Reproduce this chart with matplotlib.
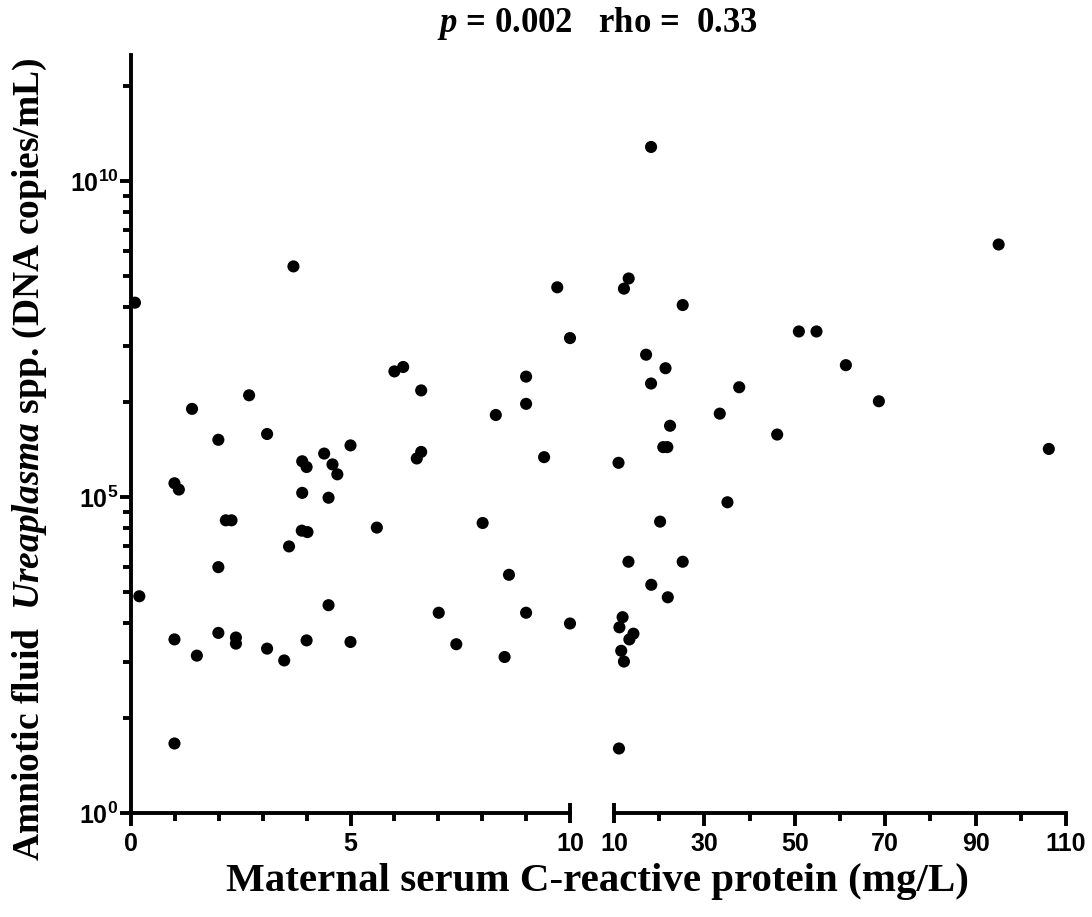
import matplotlib

matplotlib.use("Agg")
import matplotlib.pyplot as plt
from matplotlib.ticker import FixedLocator, NullFormatter

plt.rcParams["mathtext.fontset"] = "custom"
plt.rcParams["mathtext.rm"] = "Liberation Serif:bold"
plt.rcParams["mathtext.it"] = "Liberation Serif:italic:bold"
plt.rcParams["mathtext.bf"] = "Liberation Serif:bold"
plt.rcParams["mathtext.sf"] = "Liberation Sans:bold"

# CRP 0-10 mg/L segment
crp_low = [3.70, 0.09, 9.71, 10.0, 6.00, 6.20, 6.61, 9.00, 9.00, 8.31,
           2.69, 1.39, 1.99, 3.10, 5.00, 4.40, 3.90, 4.00, 4.59, 4.70,
           6.51, 6.61, 9.41, 0.99, 1.09, 3.90, 4.50, 2.16, 2.29, 3.89,
           4.02, 5.60, 8.01, 3.60, 1.99, 0.19, 8.61, 4.50, 7.01, 9.00,
           10.0, 0.99, 1.99, 2.39, 2.39, 1.50, 3.10, 3.49, 4.00, 5.00,
           7.41, 8.51, 0.99]
load_low = [4.5e8, 1.2e8, 2.1e8, 3.3e7, 9.8e6, 1.15e7, 4.9e6, 8.1e6, 3.0e6, 2.0e6,
            4.1e6, 2.5e6, 8.1e5, 1.0e6, 6.6e5, 4.9e5, 3.7e5, 3.0e5, 3.3e5, 2.3e5,
            4.1e5, 5.2e5, 4.3e5, 1.66e5, 1.32e5, 1.17e5, 9.8e4, 4.3e4, 4.3e4, 2.95e4,
            2.8e4, 3.3e4, 3.9e4, 1.66e4, 7.8e3, 2.7e3, 5.9e3, 1.95e3, 1.48e3, 1.48e3,
            1.0e3, 560, 710, 600, 480, 310, 400, 260, 540, 510,
            470, 295, 12.6]

# CRP 10-110 mg/L segment
crp_high = [18.2, 13.25, 12.2, 25.2, 50.9, 54.8, 17.1, 21.4, 18.2, 37.7,
            33.4, 46.1, 22.4, 20.9, 21.8, 11.0, 35.1, 20.2, 13.2, 25.2,
            18.25, 21.9, 11.9, 11.2, 14.3, 13.4, 11.6, 12.2, 11.1, 95.1,
            61.3, 68.6, 106.2]
load_high = [3.5e10, 2.9e8, 2.0e8, 1.1e8, 4.2e7, 4.2e7, 1.8e7, 1.1e7, 6.3e6, 5.5e6,
             2.1e6, 9.8e5, 1.35e6, 6.2e5, 6.2e5, 3.5e5, 8.3e4, 4.1e4, 9.5e3, 9.5e3,
             4.1e3, 2.6e3, 1.26e3, 870, 690, 560, 370, 250, 10.5, 1.0e9,
             1.23e7, 3.3e6, 5.8e5]

x_low_ticks = [0, 5, 10]
x_high_ticks = [10, 30, 50, 70, 90, 110]
y_major = [1e0, 1e5, 1e10]

LW = 2.8
TICK_FONT = {"family": "Liberation Sans", "weight": "bold", "size": 18}
SERIF = {"family": "Liberation Serif", "weight": "bold"}

fig = plt.figure(figsize=(10.92, 9.17), dpi=100)
W, H = 1092, 917
bottom = 1 - 813 / H
height = (813 - 55) / H
ax1 = fig.add_axes([131 / W, bottom, (570 - 131) / W, height])
ax2 = fig.add_axes([614 / W, bottom, (1066 - 614) / W, height])

for ax, xs, ys in ((ax1, crp_low, load_low), (ax2, crp_high, load_high)):
    ax.scatter(xs, ys, s=76, color="black", edgecolors="none", clip_on=False, zorder=3)
    ax.set_yscale("log")
    ax.set_ylim(1, 1e12)
    for side in ("top", "right"):
        ax.spines[side].set_visible(False)
    ax.spines["bottom"].set_linewidth(LW)
    ax.spines["left"].set_linewidth(LW)
    ax.tick_params(which="major", length=9, width=LW, direction="out")
    ax.tick_params(which="minor", length=6, width=LW, direction="out")

# left segment
ax1.set_xlim(0, 10)
ax1.xaxis.set_major_locator(FixedLocator(x_low_ticks))
ax1.xaxis.set_minor_locator(FixedLocator([1, 2, 3, 4, 6, 7, 8, 9]))
ax1.set_xticklabels([str(t) for t in x_low_ticks], fontdict=TICK_FONT)

# Prism-style minor ticks: m^5 inside each 5-decade band
minor_y = []
for base in y_major:
    for m in range(2, 10):
        v = base * m ** 5
        if v < 1e12:
            minor_y.append(v)
ax1.yaxis.set_major_locator(FixedLocator(y_major))
ax1.yaxis.set_minor_locator(FixedLocator(minor_y))
ax1.yaxis.set_minor_formatter(NullFormatter())
ax1.set_yticklabels([r"$\mathsf{10^{%d}}$" % e for e in (0, 5, 10)], fontsize=18)
ax1.tick_params(axis="y", which="major", length=8, pad=1)
ax1.tick_params(axis="y", which="minor", length=5.5)
ax1.tick_params(axis="x", pad=5)

# right segment
ax2.set_xlim(10, 110)
ax2.xaxis.set_major_locator(FixedLocator(x_high_ticks))
ax2.xaxis.set_minor_locator(FixedLocator([20, 40, 60, 80, 100]))
ax2.set_xticklabels([str(t) for t in x_high_ticks], fontdict=TICK_FONT)
ax2.spines["left"].set_visible(False)
ax2.yaxis.set_major_locator(FixedLocator([]))
ax2.yaxis.set_minor_locator(FixedLocator([]))
ax2.tick_params(axis="x", pad=5)

# break marks at the cut: ticks crossing the axis line
for t in (ax1.xaxis.get_major_ticks()[-1], ax2.xaxis.get_major_ticks()[0]):
    t.tick1line.set_marker("|")
    t.tick1line.set_markersize(14)

fig.text(597 / W, 1 - 24 / H, r"$p$ = 0.002   rho =  0.33", ha="center", va="center",
         fontsize=25, **SERIF)
fig.text(597 / W, 1 - 881 / H, "Maternal serum C-reactive protein (mg/L)", ha="center",
         va="center", fontsize=29.5, **SERIF)
fig.text(30 / W, 1 - 459 / H, r"Amniotic fluid  $Ureaplasma$ spp. (DNA copies/mL)",
         ha="center", va="center", rotation=90, fontsize=27, **SERIF)

fig.savefig("out.png", dpi=100)
